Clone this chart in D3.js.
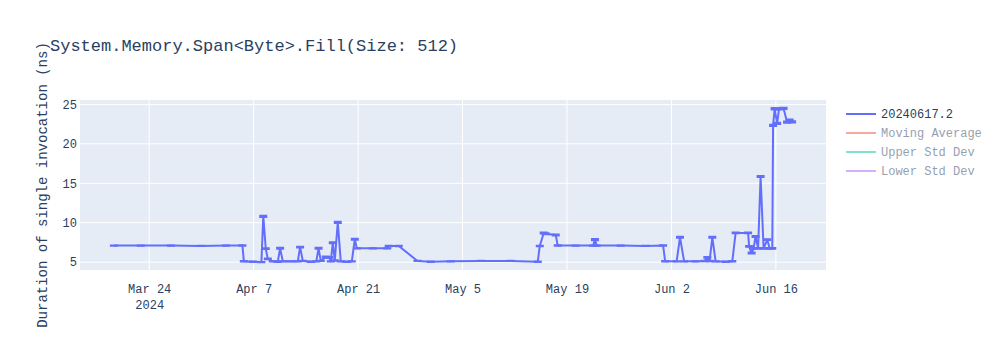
<!DOCTYPE html>
<html>
<head>
<meta charset="utf-8">
<script src="https://cdn.jsdelivr.net/npm/d3@7"></script>
<style>
  body { margin: 0; background: #fff; }
  text { font-family: "Courier New", "Liberation Mono", monospace; fill: #2a3f5f; }
</style>
</head>
<body>
<div id="chart"></div>
<script>
// benchmark run timestamps and mean durations (ns)
const RUN_DATES = [
  "2024-03-19 06:30", "2024-03-22 21:00", "2024-03-26 22:00", "2024-03-30 22:00", "2024-04-03 07:00",
  "2024-04-05 12:00", "2024-04-05 16:30", "2024-04-06 21:30", "2024-04-08 01:00", "2024-04-08 07:00",
  "2024-04-08 15:00", "2024-04-08 21:40", "2024-04-09 13:45", "2024-04-10 05:45", "2024-04-10 13:10",
  "2024-04-10 21:50", "2024-04-11 23:30", "2024-04-12 22:00", "2024-04-13 05:30", "2024-04-13 14:10",
  "2024-04-14 16:00", "2024-04-15 09:30", "2024-04-15 16:50", "2024-04-16 00:00", "2024-04-16 16:00",
  "2024-04-17 03:20", "2024-04-17 08:10", "2024-04-17 14:40", "2024-04-17 21:00", "2024-04-18 06:40",
  "2024-04-18 16:20", "2024-04-19 11:40", "2024-04-20 03:50", "2024-04-20 13:30", "2024-04-20 20:00",
  "2024-04-22 23:20", "2024-04-24 22:00", "2024-04-25 02:30", "2024-04-26 10:50", "2024-04-28 23:00",
  "2024-04-30 17:50", "2024-05-03 10:00", "2024-05-07 10:30", "2024-05-11 11:00", "2024-05-15 02:00",
  "2024-05-15 08:30", "2024-05-15 21:10", "2024-05-16 03:30", "2024-05-17 11:50", "2024-05-17 18:10",
  "2024-05-20 04:00", "2024-05-22 12:20", "2024-05-22 18:00", "2024-05-22 23:40", "2024-05-26 04:40",
  "2024-05-29 13:10", "2024-05-31 21:20", "2024-06-01 03:50", "2024-06-02 16:50", "2024-06-03 03:30",
  "2024-06-03 16:50", "2024-06-05 05:50", "2024-06-06 10:50", "2024-06-06 19:30", "2024-06-07 02:50",
  "2024-06-07 11:30", "2024-06-07 22:10", "2024-06-09 06:20", "2024-06-10 03:50", "2024-06-10 14:30",
  "2024-06-12 06:40", "2024-06-12 09:50", "2024-06-12 18:00", "2024-06-13 00:20", "2024-06-13 06:40",
  "2024-06-13 14:50", "2024-06-13 22:50", "2024-06-14 08:30", "2024-06-14 20:25", "2024-06-15 03:50",
  "2024-06-15 12:30", "2024-06-15 15:00", "2024-06-15 20:00", "2024-06-16 04:00", "2024-06-16 10:20",
  "2024-06-17 00:40", "2024-06-17 12:00", "2024-06-17 20:10", "2024-06-18 04:10"
]
const DURATIONS = [
  7.1, 7.1, 7.1, 7.05, 7.1,
  7.1, 5.1, 5.05, 5.0, 10.8,
  6.7, 5.4, 5.1, 5.05, 6.75,
  5.1, 5.1, 5.1, 6.9, 5.15,
  5.05, 5.1, 6.75, 5.15, 5.65,
  5.6, 5.1, 7.45, 5.2, 10.05,
  5.1, 5.05, 5.1, 7.9, 6.75,
  6.75, 6.75, 7.05, 7.05, 5.15,
  5.05, 5.1, 5.15, 5.15, 5.05,
  7.05, 8.7, 8.6, 8.45, 7.1,
  7.1, 7.1, 7.85, 7.1, 7.1,
  7.05, 7.1, 5.1, 5.1, 8.15,
  5.1, 5.1, 5.15, 5.6, 5.15,
  8.15, 5.1, 5.05, 5.1, 8.7,
  8.7, 7.0, 6.15, 6.75, 8.25,
  6.75, 15.85, 6.75, 7.85, 6.75,
  6.75, 22.35, 24.45, 22.6, 24.45,
  24.5, 22.75, 23.0, 22.8
]
// std dev per run, tiny so the two caps nearly overlap
const STD_DEVS = [
  0.02, 0.02, 0.02, 0.02, 0.02,
  0.03, 0.03, 0.02, 0.02, 0.08,
  0.05, 0.05, 0.02, 0.02, 0.06,
  0.02, 0.02, 0.02, 0.06, 0.02,
  0.02, 0.02, 0.06, 0.02, 0.05,
  0.05, 0.02, 0.06, 0.03, 0.08,
  0.02, 0.02, 0.02, 0.06, 0.02,
  0.02, 0.02, 0.03, 0.03, 0.02,
  0.02, 0.02, 0.02, 0.02, 0.02,
  0.04, 0.06, 0.06, 0.06, 0.03,
  0.02, 0.02, 0.08, 0.02, 0.02,
  0.02, 0.03, 0.03, 0.02, 0.06,
  0.02, 0.02, 0.03, 0.05, 0.03,
  0.06, 0.02, 0.02, 0.03, 0.05,
  0.05, 0.05, 0.06, 0.04, 0.06,
  0.04, 0.06, 0.04, 0.06, 0.04,
  0.04, 0.08, 0.08, 0.08, 0.08,
  0.08, 0.08, 0.08, 0.08
]
const X_TICKS = ["2024-03-24", "2024-04-07", "2024-04-21", "2024-05-05", "2024-05-19", "2024-06-02", "2024-06-16"]
const Y_TICKS = [5, 10, 15, 20, 25]
const LEGEND_NAMES = ["20240617.2", "Moving Average", "Upper Std Dev", "Lower Std Dev"]
const LEGEND_COLORS = ["#636efa", "#EF553B", "#00cc96", "#ab63fa"]
const LEGEND_VISIBLE = [true, false, false, false]
const TITLE = "System.Memory.Span<Byte>.Fill(Size: 512)"
const Y_TITLE = "Duration of single invocation (ns)"

const W = 1000, H = 350
const margin = { top: 100, right: 174, bottom: 80, left: 80 }
const plotW = W - margin.left - margin.right,
    plotH = H - margin.top - margin.bottom

const parseRun = d3.timeParse("%Y-%m-%d %H:%M")
const parseDay = d3.timeParse("%Y-%m-%d")

const data = RUN_DATES.map((d, i) => ({
    date: parseRun(d),
    value: DURATIONS[i],
    err: STD_DEVS[i]
}))

// plotly style autorange: data extent plus 5% each side
const xExt = d3.extent(data, d => d.date)
const xPad = (xExt[1] - xExt[0]) * 0.05
const yLo = d3.min(data, d => d.value - d.err), yHi = d3.max(data, d => d.value + d.err)
const yPad = (yHi - yLo) * 0.05

const x = d3.scaleTime()
    .domain([new Date(+xExt[0] - xPad), new Date(+xExt[1] + xPad)])
    .range([0, plotW])
const y = d3.scaleLinear()
    .domain([yLo - yPad, yHi + yPad])
    .range([plotH, 0])

const svg = d3.select("#chart").append("svg")
    .attr("width", W)
    .attr("height", H)

svg.append("text")
    .attr("x", 50)
    .attr("y", 51)
    .style("font-size", "17px")
    .text(TITLE)

const g = svg.append("g")
    .attr("transform", "translate(" + margin.left + "," + margin.top + ")")

g.append("rect")
    .attr("width", plotW)
    .attr("height", plotH)
    .attr("fill", "#e5ecf6")

// grid lines
const tickDates = X_TICKS.map(parseDay)
g.selectAll(".xgrid")
    .data(tickDates)
    .enter().append("line")
    .attr("class", "xgrid")
    .attr("x1", d => x(d)).attr("x2", d => x(d))
    .attr("y1", 0).attr("y2", plotH)
    .attr("stroke", "#fff").attr("stroke-width", 1)
g.selectAll(".ygrid")
    .data(Y_TICKS)
    .enter().append("line")
    .attr("class", "ygrid")
    .attr("x1", 0).attr("x2", plotW)
    .attr("y1", d => y(d)).attr("y2", d => y(d))
    .attr("stroke", "#fff").attr("stroke-width", 1)

// axes (labels only, plotly hides the domain line and ticks)
const fmt = d3.timeFormat("%b %-d")
const xAxis = g.append("g")
    .attr("transform", "translate(0," + plotH + ")")
    .call(d3.axisBottom(x).tickValues(tickDates).tickSize(0).tickPadding(14).tickFormat(fmt))
xAxis.select(".domain").remove()
xAxis.selectAll("text")
    .style("font-size", "12px")
    .style("font-family", null)
    .attr("fill", null)
xAxis.selectAll(".tick").filter((d, i) => i === 0)
    .append("text")
    .attr("y", 30)
    .attr("dy", "0.71em")
    .attr("text-anchor", "middle")
    .style("font-size", "12px")
    .text(d => d.getFullYear())

const yAxis = g.append("g")
    .call(d3.axisLeft(y).tickValues(Y_TICKS).tickSize(0).tickPadding(3))
yAxis.select(".domain").remove()
yAxis.selectAll("text")
    .style("font-size", "12px")
    .style("font-family", null)
    .attr("fill", null)

svg.append("text")
    .attr("transform", "translate(47," + (margin.top + plotH / 2) + ") rotate(-90)")
    .attr("text-anchor", "middle")
    .style("font-size", "14px")
    .text(Y_TITLE)

// the run trace
const clip = g.append("clipPath").attr("id", "clip")
clip.append("rect").attr("width", plotW).attr("height", plotH)
const marks = g.append("g").attr("clip-path", "url(#clip)")

const line = d3.line()
    .x(d => x(d.date))
    .y(d => y(d.value))

marks.append("path")
    .datum(data)
    .attr("d", line)
    .attr("fill", "none")
    .attr("stroke", LEGEND_COLORS[0])
    .attr("stroke-width", 2)
    .attr("stroke-linejoin", "round")

// error bars
const capW = 4
marks.selectAll(".err")
    .data(data)
    .enter().append("path")
    .attr("class", "err")
    .attr("d", d => {
        const cx = x(d.date), top = y(d.value + d.err), bot = y(d.value - d.err)
        return "M" + (cx - capW) + "," + top + "H" + (cx + capW) +
            "M" + cx + "," + top + "V" + bot +
            "M" + (cx - capW) + "," + bot + "H" + (cx + capW)
    })
    .attr("fill", "none")
    .attr("stroke", LEGEND_COLORS[0])
    .attr("stroke-width", 2)

// legend
const legend = svg.append("g")
    .attr("transform", "translate(846,114)")
const item = legend.selectAll(".item")
    .data(LEGEND_NAMES)
    .enter().append("g")
    .attr("class", "item")
    .attr("transform", (d, i) => "translate(0," + i * 19 + ")")
    .attr("opacity", (d, i) => LEGEND_VISIBLE[i] ? 1 : 0.5)
item.append("line")
    .attr("x1", 0).attr("x2", 30)
    .attr("stroke", (d, i) => LEGEND_COLORS[i])
    .attr("stroke-width", 2)
item.append("text")
    .attr("x", 35)
    .attr("dy", "0.35em")
    .style("font-size", "12px")
    .text(d => d)
</script>
</body>
</html>
